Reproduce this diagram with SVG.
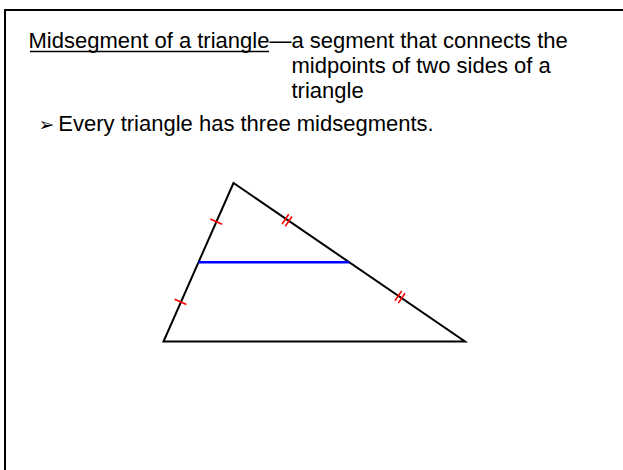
<svg xmlns="http://www.w3.org/2000/svg" width="623" height="470" viewBox="0 0 623 470">
<style>
.t{font-family:"Liberation Sans",Arial,sans-serif;font-size:22px;fill:#000}
.side{stroke:#000;stroke-width:2;fill:none;stroke-linecap:round}
.mid{stroke:#0000ff;stroke-width:2.5}
.tick{stroke:#ff0000;stroke-width:1.6}
</style>
<rect x="0" y="0" width="623" height="470" fill="#fff"/>
<rect id="frame" x="5" y="10" width="700" height="520" fill="none" stroke="#000" stroke-width="2"/>
<g id="text">
<text class="t" x="28.5" y="47.5">Midsegment of a triangle—a segment that connects the</text>
<line x1="30" y1="51.5" x2="269" y2="51.5" stroke="#000" stroke-width="1.5"/>
<text class="t" x="291.5" y="73">midpoints of two sides of a</text>
<text class="t" x="291.5" y="97.5">triangle</text>
<text x="38.5" y="130.5" style="font-family:'DejaVu Sans',sans-serif;font-size:19px">➢</text>
<text class="t" x="58.3" y="131">Every triangle has three midsegments.</text>
</g>
<g id="triangle">
<polygon class="side" points="233.5,183 163.5,341.5 465,341.5" stroke-linejoin="miter"/>
</g>
<g id="midsegment">
<line class="mid" x1="198.5" y1="262.25" x2="349.25" y2="262.25"/>
</g>
<g id="ticks">
<line class="tick" x1="210.3" y1="219.1" x2="222.1" y2="224.3"/>
<line class="tick" x1="174.6" y1="299.2" x2="186.4" y2="304.4"/>
<g transform="translate(287,220.3) rotate(34.4)">
<line class="tick" x1="-2" y1="-6" x2="-2" y2="6"/>
<line class="tick" x1="2" y1="-6" x2="2" y2="6"/>
</g>
<g transform="translate(400,297) rotate(34.4)">
<line class="tick" x1="-2" y1="-6" x2="-2" y2="6"/>
<line class="tick" x1="2" y1="-6" x2="2" y2="6"/>
</g>
</g>
</svg>
